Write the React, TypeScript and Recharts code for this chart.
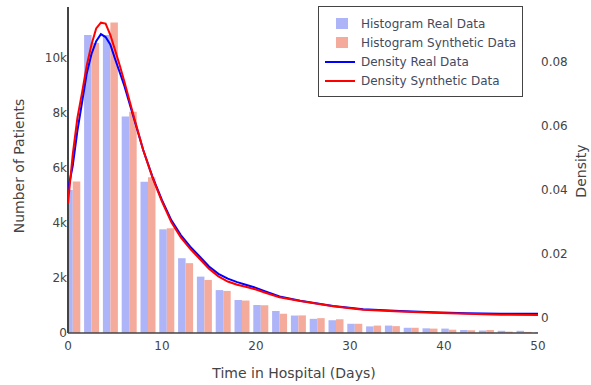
import React from 'react';
import { ComposedChart, Bar, Line, XAxis, YAxis } from 'recharts';

// histogram bins are 2 days wide, centred on 0.5, 2.5, ... (the last one spills past 50)
const binCenters = [0.5, 2.5, 4.5, 6.5, 8.5, 10.5, 12.5, 14.5, 16.5, 18.5, 20.5, 22.5, 24.5, 26.5, 28.5, 30.5, 32.5, 34.5, 36.5, 38.5, 40.5, 42.5, 44.5, 46.5, 48.5, 50.5];
const realCounts = [5200, 10840, 10840, 7870, 5500, 3770, 2720, 2050, 1560, 1200, 1020, 800, 635, 515, 465, 335, 240, 270, 190, 170, 160, 110, 90, 80, 80, 30];
const synthCounts = [5510, 10550, 11290, 8050, 5660, 3810, 2540, 1930, 1530, 1180, 1010, 700, 640, 540, 500, 335, 270, 250, 190, 160, 120, 100, 110, 50, 40, 0];

// kernel density estimates
const densityDays = [0, 0.5, 1, 1.5, 2, 2.5, 3, 3.5, 4, 4.5, 5, 5.5, 6, 7, 8, 9, 10, 11, 12, 13, 14, 15, 16, 17, 18, 19, 20, 21, 22.5, 24.7, 28.2, 31.4, 35.3, 38.8, 42.4, 46, 50];
const realDensity = [0.04, 0.0475, 0.0585, 0.0675, 0.0765, 0.0825, 0.0865, 0.0887, 0.0878, 0.0855, 0.081, 0.0768, 0.0725, 0.0625, 0.0525, 0.044, 0.0368, 0.0305, 0.0259, 0.0223, 0.0192, 0.0161, 0.0138, 0.0123, 0.0112, 0.0103, 0.0094, 0.0083, 0.0067, 0.0054, 0.00375, 0.0027, 0.0022, 0.0018, 0.00146, 0.00135, 0.0013];
const synthDensity = [0.0358, 0.051, 0.0625, 0.0705, 0.079, 0.0855, 0.0905, 0.0923, 0.092, 0.0885, 0.0838, 0.079, 0.0738, 0.063, 0.0525, 0.0438, 0.0364, 0.0299, 0.0252, 0.0216, 0.0185, 0.0154, 0.013, 0.0114, 0.0104, 0.0097, 0.0089, 0.0079, 0.0065, 0.0053, 0.0037, 0.0026, 0.002, 0.0016, 0.0013, 0.001, 0.00094];

const dayTicks = [0, 10, 20, 30, 40, 50];
const countTicks = [0, 2000, 4000, 6000, 8000, 10000];
const densityTicks = [0, 0.02, 0.04, 0.06, 0.08];

const histRows = binCenters.map((day, i) => ({ day, real: realCounts[i], synth: synthCounts[i] }));
const densityRows = densityDays.map((day, i) => ({ day, real: realDensity[i], synth: synthDensity[i] }));

const W = 591;
const H = 385;
const font = '"DejaVu Sans", Verdana, sans-serif';
const axisColor = '#444';
const realBar = '#aeb4f8';
const synthBar = '#f5ab9c';

const fmtK = (v: number) => (v === 0 ? '0' : `${v / 1000}k`);
const fmtDensity = (v: number) => (v === 0 ? '0' : v.toFixed(2));

function LeftTitle({ viewBox }: any) {
  const cx = viewBox.x + 19;
  const cy = viewBox.y + viewBox.height / 2 - 4;
  return (
    <text x={cx} y={cy} transform={`rotate(-90 ${cx} ${cy})`} textAnchor="middle" dominantBaseline="central" fill={axisColor} fontSize={14} fontFamily={font}>
      Number of Patients
    </text>
  );
}

function RightTitle({ viewBox }: any) {
  const cx = viewBox.x + 43;
  const cy = viewBox.y + viewBox.height / 2 + 1;
  return (
    <text x={cx} y={cy} transform={`rotate(-90 ${cx} ${cy})`} textAnchor="middle" dominantBaseline="central" fill={axisColor} fontSize={14} fontFamily={font}>
      Density
    </text>
  );
}

function BottomTitle({ viewBox }: any) {
  return (
    <text x={viewBox.x + viewBox.width / 2 - 9} y={viewBox.y + 45} textAnchor="middle" fill={axisColor} fontSize={14} fontFamily={font}>
      Time in Hospital (Days)
    </text>
  );
}

const legendItems = [
  { name: 'Histogram Real Data', color: realBar, kind: 'box' },
  { name: 'Histogram Synthetic Data', color: synthBar, kind: 'box' },
  { name: 'Density Real Data', color: '#0000ff', kind: 'line' },
  { name: 'Density Synthetic Data', color: '#ff0000', kind: 'line' },
];

function LegendBox() {
  return (
    <div style={{ position: 'absolute', left: 318, top: 6, width: 203, height: 82, border: `1px solid ${axisColor}`, background: '#fff', paddingTop: 7, boxSizing: 'content-box' }}>
      {legendItems.map((item) => (
        <div key={item.name} style={{ display: 'flex', alignItems: 'center', height: 19.2 }}>
          <div style={{ width: 42, display: 'flex', justifyContent: 'center' }}>
            {item.kind === 'box' ? (
              <div style={{ width: 12, height: 11, background: item.color, marginLeft: 4 }} />
            ) : (
              <div style={{ width: 30, height: 2, background: item.color }} />
            )}
          </div>
          <span style={{ fontFamily: font, fontSize: 12, color: '#434a5e', whiteSpace: 'nowrap' }}>{item.name}</span>
        </div>
      ))}
    </div>
  );
}

export default function App() {
  return (
    <div style={{ position: 'relative', width: W, height: H, background: '#fff' }}>
      <style>{'body { margin: 0; }'}</style>
      {/* histogram layer with the count axis */}
      <ComposedChart width={W} height={H} data={histRows} margin={{ top: 7, right: 53, bottom: 0, left: 0 }}>
        <XAxis
          dataKey="day"
          type="number"
          domain={[0, 50]}
          ticks={dayTicks}
          interval={0}
          allowDataOverflow
          height={52}
          tickLine={false}
          tickSize={0}
          tickMargin={8}
          axisLine={{ stroke: axisColor, strokeWidth: 1.5 }}
          tick={{ fill: axisColor, fontSize: 12, fontFamily: font }}
          label={<BottomTitle />}
        />
        <YAxis
          domain={[0, 11855]}
          ticks={countTicks}
          interval={0}
          allowDataOverflow
          width={68}
          tickFormatter={fmtK}
          tickLine={false}
          tickSize={0}
          tickMargin={1}
          axisLine={{ stroke: axisColor, strokeWidth: 2 }}
          tick={{ fill: axisColor, fontSize: 12, fontFamily: font }}
          label={<LeftTitle />}
        />
        <Bar dataKey="real" name="Histogram Real Data" fill={realBar} barSize={7.5} isAnimationActive={false} />
        <Bar dataKey="synth" name="Histogram Synthetic Data" fill={synthBar} barSize={7.5} isAnimationActive={false} />
      </ComposedChart>
      {/* density layer with its own axis on the right */}
      <div style={{ position: 'absolute', left: 0, top: 0 }}>
        <ComposedChart width={W} height={H} data={densityRows} margin={{ top: 7, right: 0, bottom: 52, left: 68 }}>
          <XAxis dataKey="day" type="number" domain={[0, 50]} allowDataOverflow hide />
          <YAxis
            orientation="right"
            domain={[-0.00469, 0.09719]}
            ticks={densityTicks}
            interval={0}
            allowDataOverflow
            width={53}
            tickFormatter={fmtDensity}
            axisLine={false}
            tickLine={false}
            tickSize={0}
            tickMargin={3}
            tick={{ fill: axisColor, fontSize: 12, fontFamily: font }}
            label={<RightTitle />}
          />
          <Line dataKey="real" name="Density Real Data" type="linear" stroke="#0000ff" strokeWidth={2} dot={false} isAnimationActive={false} />
          <Line dataKey="synth" name="Density Synthetic Data" type="linear" stroke="#ff0000" strokeWidth={2} dot={false} isAnimationActive={false} />
        </ComposedChart>
      </div>
      <LegendBox />
    </div>
  );
}
